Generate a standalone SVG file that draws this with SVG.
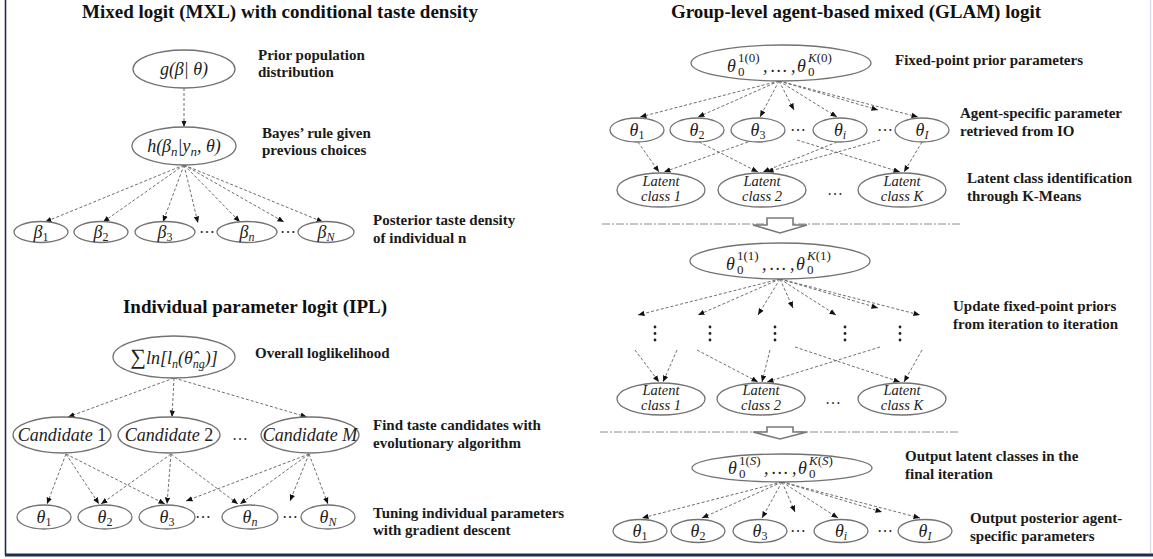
<svg xmlns="http://www.w3.org/2000/svg" width="1153" height="559" viewBox="0 0 1153 559">
<style>
.bg{fill:#ffffff}
.title{font-family:"Liberation Serif",serif;font-weight:bold;font-size:19px;fill:#111;text-anchor:middle}
.lb{font-family:"Liberation Serif",serif;font-weight:bold;font-size:15px;fill:#1a1a1a}
.n{fill:#ffffff;stroke:#727272;stroke-width:1.3}
.m{font-family:"Liberation Serif","DejaVu Serif",serif;font-style:italic;font-size:18px;fill:#222;text-anchor:middle}
.ms{font-family:"Liberation Serif","DejaVu Serif",serif;font-style:italic;font-size:18px;fill:#222}
.sm{font-family:"Liberation Serif","DejaVu Serif",serif;font-size:13px;fill:#222}
.lc{font-family:"Liberation Serif","DejaVu Serif",serif;font-style:italic;font-size:14.5px;fill:#222;text-anchor:middle}
.dots{font-family:"Liberation Serif",serif;font-size:16px;fill:#333;text-anchor:middle}
.e{fill:none;stroke:#5e5e5e;stroke-width:0.9;stroke-dasharray:3 2;marker-end:url(#ah)}
.sep{fill:none;stroke:#8a8a8a;stroke-width:1;stroke-dasharray:8 2 2 2}
.big{fill:#ffffff;stroke:#7a7a7a;stroke-width:1.6}
.vd{fill:#222}
</style>
<defs>
<marker id="ah" markerUnits="userSpaceOnUse" markerWidth="7" markerHeight="6" refX="6.5" refY="3" orient="auto">
<path d="M0,0.3 L6.5,3 L0,5.7 z" fill="#111"/>
</marker>
</defs>
<rect class="bg" x="0" y="0" width="1153" height="559"/>
<!-- frame -->
<line x1="1150.5" y1="0" x2="1150.5" y2="553" stroke="#d8dde6" stroke-width="1.5"/>
<line x1="5.5" y1="0" x2="5.5" y2="555" stroke="#1f2f4f" stroke-width="1.6"/>
<line x1="5" y1="555" x2="1153" y2="555" stroke="#1f2f4f" stroke-width="3"/>

<!-- titles -->
<text class="title" x="280" y="18">Mixed logit (MXL) with conditional taste density</text>
<text class="title" x="255" y="313">Individual parameter logit (IPL)</text>
<text class="title" x="856" y="18">Group-level agent-based mixed (GLAM) logit</text>

<!-- labels -->
<g id="labels">
<text class="lb" x="258" y="60">Prior population</text>
<text class="lb" x="258" y="77">distribution</text>
<text class="lb" x="262" y="138">Bayes’ rule given</text>
<text class="lb" x="262" y="155">previous choices</text>
<text class="lb" x="373" y="225">Posterior taste density</text>
<text class="lb" x="373" y="243">of individual n</text>
<text class="lb" x="255" y="358">Overall loglikelihood</text>
<text class="lb" x="373" y="430">Find taste candidates with</text>
<text class="lb" x="373" y="448">evolutionary algorithm</text>
<text class="lb" x="373" y="518">Tuning individual parameters</text>
<text class="lb" x="373" y="535">with gradient descent</text>
<text class="lb" x="895" y="65">Fixed-point prior parameters</text>
<text class="lb" x="960" y="118">Agent-specific parameter</text>
<text class="lb" x="960" y="136">retrieved from IO</text>
<text class="lb" x="967" y="183">Latent class identification</text>
<text class="lb" x="967" y="201">through K-Means</text>
<text class="lb" x="953" y="311">Update fixed-point priors</text>
<text class="lb" x="953" y="329">from iteration to iteration</text>
<text class="lb" x="905" y="461">Output latent classes in the</text>
<text class="lb" x="905" y="479">final iteration</text>
<text class="lb" x="970" y="523">Output posterior agent-</text>
<text class="lb" x="970" y="541">specific parameters</text>
</g>

<!-- separators and big arrows -->
<g id="separators">
<line class="sep" x1="602" y1="224" x2="960" y2="224"/>
<line class="sep" x1="600" y1="432" x2="958" y2="432"/>
<polygon class="big" points="767,218 793,218 793,225 807,225 780,233 753,225 767,225"/>
<polygon class="big" points="767,427 793,427 793,432 807,432 780,439 753,432 767,432"/>
</g>

<!-- connectors -->
<g id="connectors">
<!-- MXL -->
<line class="e" x1="184" y1="88" x2="184" y2="127"/>
<line class="e" x1="184" y1="165" x2="45" y2="222"/>
<line class="e" x1="184" y1="165" x2="103" y2="222"/>
<line class="e" x1="184" y1="165" x2="163" y2="222"/>
<line class="e" x1="184" y1="165" x2="198" y2="223"/>
<line class="e" x1="184" y1="165" x2="240" y2="222"/>
<line class="e" x1="184" y1="165" x2="284" y2="222"/>
<line class="e" x1="184" y1="165" x2="323" y2="222"/>
<!-- IPL -->
<line class="e" x1="174" y1="378" x2="68" y2="417"/>
<line class="e" x1="174" y1="378" x2="172" y2="417"/>
<line class="e" x1="174" y1="378" x2="307" y2="417"/>
<line class="e" x1="66" y1="454" x2="47" y2="504"/>
<line class="e" x1="66" y1="454" x2="99" y2="504"/>
<line class="e" x1="66" y1="454" x2="165" y2="504"/>
<line class="e" x1="171" y1="454" x2="101" y2="504"/>
<line class="e" x1="171" y1="454" x2="167" y2="504"/>
<line class="e" x1="171" y1="454" x2="238" y2="504"/>
<line class="e" x1="309" y1="454" x2="186" y2="501"/>
<line class="e" x1="309" y1="454" x2="240" y2="504"/>
<line class="e" x1="309" y1="454" x2="290" y2="501"/>
<line class="e" x1="309" y1="454" x2="328" y2="504"/>
<!-- GLAM group 1 -->
<line class="e" x1="779" y1="81" x2="640" y2="117"/>
<line class="e" x1="779" y1="81" x2="698" y2="117"/>
<line class="e" x1="779" y1="81" x2="760" y2="117"/>
<line class="e" x1="779" y1="81" x2="794" y2="110"/>
<line class="e" x1="779" y1="81" x2="837" y2="117"/>
<line class="e" x1="779" y1="81" x2="878" y2="110"/>
<line class="e" x1="779" y1="81" x2="918" y2="117"/>
<line class="e" x1="638" y1="142" x2="659" y2="172"/>
<line class="e" x1="748" y1="142" x2="664" y2="172"/>
<line class="e" x1="699" y1="142" x2="758" y2="172"/>
<line class="e" x1="837" y1="142" x2="763" y2="172"/>
<line class="e" x1="880" y1="140" x2="767" y2="172"/>
<line class="e" x1="797" y1="140" x2="900" y2="172"/>
<line class="e" x1="922" y1="142" x2="904" y2="172"/>
<!-- GLAM group 2 -->
<line class="e" x1="780" y1="279" x2="638" y2="315"/>
<line class="e" x1="780" y1="279" x2="698" y2="315"/>
<line class="e" x1="780" y1="279" x2="758" y2="315"/>
<line class="e" x1="780" y1="279" x2="793" y2="308"/>
<line class="e" x1="780" y1="279" x2="836" y2="315"/>
<line class="e" x1="780" y1="279" x2="878" y2="308"/>
<line class="e" x1="780" y1="279" x2="920" y2="315"/>
<line class="e" x1="635" y1="350" x2="659" y2="382"/>
<line class="e" x1="677" y1="350" x2="663" y2="382"/>
<line class="e" x1="697" y1="350" x2="758" y2="382"/>
<line class="e" x1="770" y1="350" x2="762" y2="382"/>
<line class="e" x1="880" y1="347" x2="767" y2="382"/>
<line class="e" x1="795" y1="347" x2="900" y2="382"/>
<line class="e" x1="922" y1="350" x2="904" y2="382"/>
<!-- GLAM group 3 -->
<line class="e" x1="782" y1="482" x2="642" y2="518"/>
<line class="e" x1="782" y1="482" x2="702" y2="518"/>
<line class="e" x1="782" y1="482" x2="762" y2="518"/>
<line class="e" x1="782" y1="482" x2="795" y2="512"/>
<line class="e" x1="782" y1="482" x2="838" y2="518"/>
<line class="e" x1="782" y1="482" x2="882" y2="512"/>
<line class="e" x1="782" y1="482" x2="920" y2="518"/>
</g>

<!-- MXL nodes -->
<g id="mxl-g"><ellipse class="n" cx="184" cy="69" rx="51" ry="19"/><text class="m" x="184" y="75" font-size="19">g(β| θ)</text></g>
<g id="mxl-h"><ellipse class="n" cx="184" cy="146" rx="52" ry="19"/><text class="m" x="184" y="152" font-size="19">h(β<tspan font-size="13" dy="4">n</tspan><tspan dy="-4">|y</tspan><tspan font-size="13" dy="4">n</tspan><tspan dy="-4">, θ)</tspan></text></g>
<g id="beta1"><ellipse class="n" cx="41" cy="232" rx="27" ry="10.5"/><text class="m" x="41" y="238">β<tspan font-size="12" dy="3" font-style="normal">1</tspan></text></g>
<g id="beta2"><ellipse class="n" cx="101" cy="232" rx="27" ry="10.5"/><text class="m" x="101" y="238">β<tspan font-size="12" dy="3" font-style="normal">2</tspan></text></g>
<g id="beta3"><ellipse class="n" cx="165" cy="232" rx="30" ry="10.5"/><text class="m" x="165" y="238">β<tspan font-size="12" dy="3" font-style="normal">3</tspan></text></g>
<text class="dots" x="207" y="237">⋯</text>
<g id="betan"><ellipse class="n" cx="247" cy="232" rx="30" ry="10.5"/><text class="m" x="247" y="238">β<tspan font-size="12" dy="3">n</tspan></text></g>
<text class="dots" x="288" y="237">⋯</text>
<g id="betaN"><ellipse class="n" cx="326" cy="232" rx="28" ry="10.5"/><text class="m" x="326" y="238">β<tspan font-size="12" dy="3">N</tspan></text></g>

<!-- IPL nodes -->
<g id="ipl-sum"><ellipse class="n" cx="174" cy="357" rx="61" ry="21"/><text class="m" x="174" y="364" font-size="18"><tspan font-style="normal" font-size="22">∑</tspan>ln[l<tspan font-size="12" dy="4">n</tspan><tspan dy="-4">(θ̂</tspan><tspan font-size="12" dy="4">ng</tspan><tspan dy="-4">)]</tspan></text></g>
<g id="cand1"><ellipse class="n" cx="62" cy="435" rx="49" ry="18"/><text class="m" x="62" y="441" font-size="17">Candidate <tspan font-style="normal">1</tspan></text></g>
<g id="cand2"><ellipse class="n" cx="169" cy="435" rx="51" ry="18"/><text class="m" x="169" y="441" font-size="17">Candidate <tspan font-style="normal">2</tspan></text></g>
<text class="dots" x="240" y="440">…</text>
<g id="candM"><ellipse class="n" cx="310" cy="435" rx="49" ry="18"/><text class="m" x="310" y="441" font-size="17">Candidate M</text></g>
<g id="ipl-t1"><ellipse class="n" cx="44" cy="517" rx="27" ry="12"/><text class="m" x="44" y="523">θ<tspan font-size="12" dy="3" font-style="normal">1</tspan></text></g>
<g id="ipl-t2"><ellipse class="n" cx="105" cy="517" rx="27" ry="12"/><text class="m" x="105" y="523">θ<tspan font-size="12" dy="3" font-style="normal">2</tspan></text></g>
<g id="ipl-t3"><ellipse class="n" cx="167" cy="517" rx="28" ry="12"/><text class="m" x="167" y="523">θ<tspan font-size="12" dy="3" font-style="normal">3</tspan></text></g>
<text class="dots" x="203" y="522">⋯</text>
<g id="ipl-tn"><ellipse class="n" cx="250" cy="517" rx="28" ry="12"/><text class="m" x="250" y="523">θ<tspan font-size="12" dy="3">n</tspan></text></g>
<text class="dots" x="290" y="522">⋯</text>
<g id="ipl-tN"><ellipse class="n" cx="328" cy="517" rx="27" ry="12"/><text class="m" x="328" y="523">θ<tspan font-size="12" dy="3">N</tspan></text></g>

<!-- GLAM group 1 nodes -->
<g id="prior0" transform="translate(781,63)">
<ellipse class="n" cx="0" cy="0" rx="90" ry="18"/>
<text class="ms" x="-54" y="9" font-size="19">θ</text><text class="sm" x="-43" y="-1">1(0)</text><text class="sm" x="-43" y="13">0</text>
<text class="ms" x="-18" y="9" font-style="normal" font-size="19">,</text><text class="ms" x="-2" y="9" font-style="normal" font-size="19" text-anchor="middle">…</text><text class="ms" x="10" y="9" font-style="normal" font-size="19">,</text>
<text class="ms" x="16" y="9" font-size="19">θ</text><text class="sm" x="27" y="-1"><tspan font-style="italic">K</tspan>(0)</text><text class="sm" x="27" y="13">0</text>
</g>
<g id="g1-t1"><ellipse class="n" cx="637" cy="130" rx="27" ry="12"/><text class="m" x="637" y="136">θ<tspan font-size="12" dy="3" font-style="normal">1</tspan></text></g>
<g id="g1-t2"><ellipse class="n" cx="697" cy="130" rx="27" ry="12"/><text class="m" x="697" y="136">θ<tspan font-size="12" dy="3" font-style="normal">2</tspan></text></g>
<g id="g1-t3"><ellipse class="n" cx="758" cy="130" rx="27" ry="12"/><text class="m" x="758" y="136">θ<tspan font-size="12" dy="3" font-style="normal">3</tspan></text></g>
<text class="dots" x="798" y="135">⋯</text>
<g id="g1-ti"><ellipse class="n" cx="840" cy="130" rx="27" ry="12"/><text class="m" x="840" y="136">θ<tspan font-size="12" dy="3">i</tspan></text></g>
<text class="dots" x="885" y="135">⋯</text>
<g id="g1-tI"><ellipse class="n" cx="922" cy="130" rx="27" ry="12"/><text class="m" x="922" y="136">θ<tspan font-size="12" dy="3">I</tspan></text></g>
<g id="g1-lc1"><ellipse class="n" cx="661" cy="190" rx="44" ry="17"/><text class="lc" x="661" y="186">Latent</text><text class="lc" x="661" y="201">class 1</text></g>
<g id="g1-lc2"><ellipse class="n" cx="762" cy="190" rx="44" ry="17"/><text class="lc" x="762" y="186">Latent</text><text class="lc" x="762" y="201">class 2</text></g>
<text class="dots" x="835" y="195">…</text>
<g id="g1-lcK"><ellipse class="n" cx="902" cy="190" rx="44" ry="17"/><text class="lc" x="902" y="186">Latent</text><text class="lc" x="902" y="201">class K</text></g>

<!-- GLAM group 2 nodes -->
<g id="prior1" transform="translate(780,261)">
<ellipse class="n" cx="0" cy="0" rx="90" ry="18"/>
<text class="ms" x="-54" y="9" font-size="19">θ</text><text class="sm" x="-43" y="-1">1(1)</text><text class="sm" x="-43" y="13">0</text>
<text class="ms" x="-18" y="9" font-style="normal" font-size="19">,</text><text class="ms" x="-2" y="9" font-style="normal" font-size="19" text-anchor="middle">…</text><text class="ms" x="10" y="9" font-style="normal" font-size="19">,</text>
<text class="ms" x="16" y="9" font-size="19">θ</text><text class="sm" x="27" y="-1"><tspan font-style="italic">K</tspan>(1)</text><text class="sm" x="27" y="13">0</text>
</g>
<g id="vdots">
<circle class="vd" cx="655" cy="327" r="1.4"/><circle class="vd" cx="655" cy="333.5" r="1.4"/><circle class="vd" cx="655" cy="340" r="1.4"/>
<circle class="vd" cx="710" cy="327" r="1.4"/><circle class="vd" cx="710" cy="333.5" r="1.4"/><circle class="vd" cx="710" cy="340" r="1.4"/>
<circle class="vd" cx="775" cy="327" r="1.4"/><circle class="vd" cx="775" cy="333.5" r="1.4"/><circle class="vd" cx="775" cy="340" r="1.4"/>
<circle class="vd" cx="845" cy="327" r="1.4"/><circle class="vd" cx="845" cy="333.5" r="1.4"/><circle class="vd" cx="845" cy="340" r="1.4"/>
<circle class="vd" cx="900" cy="327" r="1.4"/><circle class="vd" cx="900" cy="333.5" r="1.4"/><circle class="vd" cx="900" cy="340" r="1.4"/>
</g>
<g id="g2-lc1"><ellipse class="n" cx="661" cy="399" rx="44" ry="16"/><text class="lc" x="661" y="395">Latent</text><text class="lc" x="661" y="410">class 1</text></g>
<g id="g2-lc2"><ellipse class="n" cx="761" cy="399" rx="44" ry="16"/><text class="lc" x="761" y="395">Latent</text><text class="lc" x="761" y="410">class 2</text></g>
<text class="dots" x="833" y="404">…</text>
<g id="g2-lcK"><ellipse class="n" cx="902" cy="399" rx="44" ry="16"/><text class="lc" x="902" y="395">Latent</text><text class="lc" x="902" y="410">class K</text></g>

<!-- GLAM group 3 nodes -->
<g id="priorS" transform="translate(782,468)">
<ellipse class="n" cx="0" cy="0" rx="90" ry="14"/>
<text class="ms" x="-54" y="6" font-size="19">θ</text><text class="sm" x="-43" y="-3">1(<tspan font-style="italic">S</tspan>)</text><text class="sm" x="-43" y="10">0</text>
<text class="ms" x="-18" y="6" font-style="normal" font-size="19">,</text><text class="ms" x="-2" y="6" font-style="normal" font-size="19" text-anchor="middle">…</text><text class="ms" x="10" y="6" font-style="normal" font-size="19">,</text>
<text class="ms" x="16" y="6" font-size="19">θ</text><text class="sm" x="27" y="-3"><tspan font-style="italic">K</tspan>(<tspan font-style="italic">S</tspan>)</text><text class="sm" x="27" y="10">0</text>
</g>
<g id="g3-t1"><ellipse class="n" cx="640" cy="531" rx="27" ry="11.5"/><text class="m" x="640" y="537">θ<tspan font-size="12" dy="3" font-style="normal">1</tspan></text></g>
<g id="g3-t2"><ellipse class="n" cx="698" cy="531" rx="27" ry="11.5"/><text class="m" x="698" y="537">θ<tspan font-size="12" dy="3" font-style="normal">2</tspan></text></g>
<g id="g3-t3"><ellipse class="n" cx="760" cy="531" rx="27" ry="11.5"/><text class="m" x="760" y="537">θ<tspan font-size="12" dy="3" font-style="normal">3</tspan></text></g>
<text class="dots" x="798" y="536">⋯</text>
<g id="g3-ti"><ellipse class="n" cx="841" cy="531" rx="27" ry="11.5"/><text class="m" x="841" y="537">θ<tspan font-size="12" dy="3">i</tspan></text></g>
<text class="dots" x="885" y="536">⋯</text>
<g id="g3-tI"><ellipse class="n" cx="925" cy="531" rx="27" ry="11.5"/><text class="m" x="925" y="537">θ<tspan font-size="12" dy="3">I</tspan></text></g>
</svg>
